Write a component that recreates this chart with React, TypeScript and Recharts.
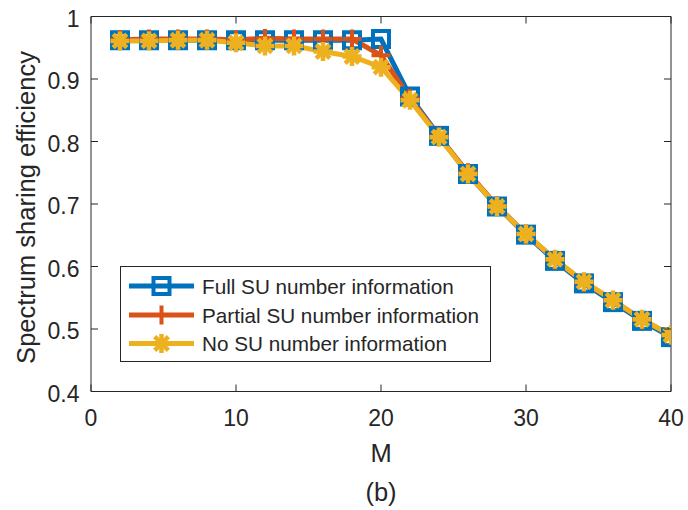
import React from 'react';
import { LineChart, Line, XAxis, YAxis, Legend, Label } from 'recharts';

const M = [2, 4, 6, 8, 10, 12, 14, 16, 18, 20, 22, 24, 26, 28, 30, 32, 34, 36, 38, 40];
const fullSU = [0.962, 0.962, 0.962, 0.962, 0.962, 0.962, 0.962, 0.962, 0.962, 0.964, 0.872, 0.809, 0.748, 0.696, 0.651, 0.609, 0.573, 0.543, 0.513, 0.487];
const partialSU = [0.963, 0.964, 0.964, 0.964, 0.963, 0.965, 0.964, 0.964, 0.964, 0.938, 0.869, 0.808, 0.750, 0.697, 0.652, 0.611, 0.575, 0.546, 0.515, 0.490];
const noSU = [0.961, 0.961, 0.962, 0.962, 0.958, 0.953, 0.953, 0.944, 0.936, 0.919, 0.866, 0.807, 0.748, 0.696, 0.652, 0.6115, 0.5757, 0.546, 0.5155, 0.4904];
const xTicks = [0, 10, 20, 30, 40];
const yTicks = [0.4, 0.5, 0.6, 0.7, 0.8, 0.9, 1];
const seriesNames = ['Full SU number information', 'Partial SU number information', 'No SU number information'];
const seriesKeys = ['full', 'partial', 'none'];

const data = M.map((m, i) => ({ M: m, full: fullSU[i], partial: partialSU[i], none: noSU[i] }));

const AX = '#262626';
const FONT = '"Liberation Sans", Arial, Helvetica, sans-serif';
const BLUE = '#0072BD';
const RED = '#D95319';
const YELLOW = '#EDB120';
const TICK_LEN = 7;

const Marker = ({ kind, cx, cy }: { kind: string; cx: number; cy: number }) => {
  if (cx == null || cy == null) return null;
  if (kind === 'square') {
    return <rect x={cx - 8} y={cy - 8} width={16} height={16} fill="none" stroke={BLUE} strokeWidth={4} />;
  }
  if (kind === 'plus') {
    return (
      <g stroke={RED} strokeWidth={4}>
        <line x1={cx - 9.5} x2={cx + 9.5} y1={cy} y2={cy} />
        <line x1={cx} x2={cx} y1={cy - 9.5} y2={cy + 9.5} />
      </g>
    );
  }
  const r = 9.5;
  const d = r * 0.72;
  return (
    <g stroke={YELLOW} strokeWidth={4.5}>
      <line x1={cx - r} x2={cx + r} y1={cy} y2={cy} />
      <line x1={cx} x2={cx} y1={cy - r} y2={cy + r} />
      <line x1={cx - d} x2={cx + d} y1={cy - d} y2={cy + d} />
      <line x1={cx - d} x2={cx + d} y1={cy + d} y2={cy - d} />
    </g>
  );
};

const kinds: Record<string, string> = { full: 'square', partial: 'plus', none: 'star' };

const makeDot = (kind: string) => (p: any) => <Marker key={`${kind}-${p.index}`} kind={kind} cx={p.cx} cy={p.cy} />;

const BottomTick = (props: any) => {
  const { x, y, payload } = props;
  return (
    <g>
      <line x1={x} x2={x} y1={y} y2={y - TICK_LEN} stroke={AX} strokeWidth={1} />
      <text x={x} y={y + 26.5} textAnchor="middle" dominantBaseline="central" fontSize={23} fill={AX} fontFamily={FONT}>
        {payload.value}
      </text>
    </g>
  );
};

const LeftTick = (props: any) => {
  const { x, y, payload } = props;
  return (
    <g>
      <line x1={x} x2={x + TICK_LEN} y1={y} y2={y} stroke={AX} strokeWidth={1} />
      <text x={x - 11.5} y={y + 2} textAnchor="end" dominantBaseline="central" fontSize={23} fill={AX} fontFamily={FONT}>
        {payload.value}
      </text>
    </g>
  );
};

const TopTick = (props: any) => {
  const { x, y } = props;
  return <line x1={x} x2={x} y1={y} y2={y + TICK_LEN} stroke={AX} strokeWidth={1} />;
};

const RightTick = (props: any) => {
  const { x, y } = props;
  return <line x1={x} x2={x - TICK_LEN} y1={y} y2={y} stroke={AX} strokeWidth={1} />;
};

const LegendBox = (props: any) => {
  const payload = [...(props.payload || [])].sort(
    (a: any, b: any) => seriesKeys.indexOf(a.dataKey) - seriesKeys.indexOf(b.dataKey)
  );
  const rows = [20, 49, 77.5];
  return (
    <svg width={371} height={96} style={{ display: 'block' }}>
      <rect x={0.5} y={0.5} width={370} height={95} fill="#fff" stroke={AX} strokeWidth={1} />
      {payload.map((entry: any, i: number) => {
        const cy = rows[i];
        const key = entry.dataKey as string;
        return (
          <g key={key}>
            <line x1={9} x2={74} y1={cy} y2={cy} stroke={entry.color} strokeWidth={5} />
            <Marker kind={kinds[key]} cx={41.5} cy={cy} />
            <text x={82} y={cy} dominantBaseline="central" fontSize={20.7} fill={AX} fontFamily={FONT}>
              {entry.value}
            </text>
          </g>
        );
      })}
    </svg>
  );
};

export default function App() {
  return (
    <div style={{ position: 'absolute', left: 0, top: 0, width: 688, height: 510, background: '#fff' }}>
      <LineChart
        width={688}
        height={510}
        data={data}
        margin={{ top: 15.5, left: 31, right: 16, bottom: 88.5 }}
      >
        <XAxis
          dataKey="M"
          type="number"
          domain={[0, 40]}
          ticks={xTicks}
          allowDataOverflow
          height={30}
          tickSize={0}
          tickMargin={0}
          tickLine={false}
          axisLine={{ stroke: AX, strokeWidth: 1 }}
          tick={<BottomTick />}
          interval={0}
        >
          <Label
            content={(p: any) => {
              const vb = p.viewBox;
              const cx = vb.x + vb.width / 2;
              return (
                <g>
                  <text x={cx} y={vb.y + 61.5} textAnchor="middle" dominantBaseline="central" fontSize={25.5} fill={AX} fontFamily={FONT}>M</text>
                  <text x={cx} y={vb.y + 100.5} textAnchor="middle" dominantBaseline="central" fontSize={25.5} fill={AX} fontFamily={FONT}>(b)</text>
                </g>
              );
            }}
          />
        </XAxis>
        <XAxis
          xAxisId="top"
          orientation="top"
          dataKey="M"
          type="number"
          domain={[0, 40]}
          ticks={xTicks}
          allowDataOverflow
          height={1}
          tickSize={0}
          tickMargin={0}
          tickLine={false}
          axisLine={{ stroke: AX, strokeWidth: 1 }}
          tick={<TopTick />}
          interval={0}
        />
        <YAxis
          type="number"
          domain={[0.4, 1]}
          ticks={yTicks}
          allowDataOverflow
          width={60}
          tickSize={0}
          tickMargin={0}
          tickLine={false}
          axisLine={{ stroke: AX, strokeWidth: 1 }}
          tick={<LeftTick />}
          interval={0}
        >
          <Label
            content={(p: any) => {
              const vb = p.viewBox;
              const x = vb.x + vb.width - 56;
              const y = 207.5;
              return (
                <text x={x} y={y} transform={`rotate(-90, ${x}, ${y})`} textAnchor="middle" fontSize={25.5} fill={AX} fontFamily={FONT}>
                  Spectrum sharing efficiency
                </text>
              );
            }}
          />
        </YAxis>
        <YAxis
          yAxisId="right"
          orientation="right"
          type="number"
          domain={[0.4, 1]}
          ticks={yTicks}
          allowDataOverflow
          width={1}
          tickSize={0}
          tickMargin={0}
          tickLine={false}
          axisLine={{ stroke: AX, strokeWidth: 1 }}
          tick={<RightTick />}
          interval={0}
        />
        <Line dataKey="full" name={seriesNames[0]} stroke={BLUE} strokeWidth={5} dot={makeDot('square')} activeDot={false} isAnimationActive={false} />
        <Line dataKey="partial" name={seriesNames[1]} stroke={RED} strokeWidth={5} dot={makeDot('plus')} activeDot={false} isAnimationActive={false} />
        <Line dataKey="none" name={seriesNames[2]} stroke={YELLOW} strokeWidth={5} dot={makeDot('star')} activeDot={false} isAnimationActive={false} />
        <Legend
          layout="horizontal"
          verticalAlign="middle"
          align="center"
          content={<LegendBox />}
          wrapperStyle={{ position: 'absolute', left: 120, top: 266, width: 371, height: 96 }}
        />
      </LineChart>
    </div>
  );
}
